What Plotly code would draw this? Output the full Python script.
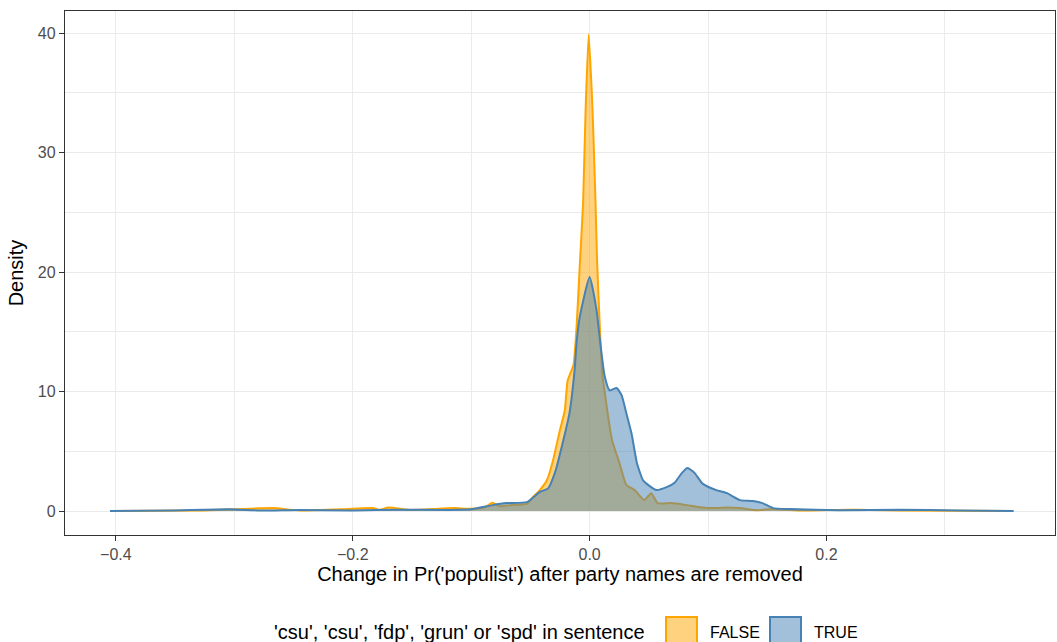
import plotly.graph_objects as go

# FALSE group density (orange)
false_x = [-0.405, -0.329, -0.2675, -0.245, -0.211, -0.183, -0.177, -0.170, -0.152, -0.127,
           -0.114, -0.101, -0.089, -0.082, -0.076, -0.0675, -0.053, -0.048, -0.042, -0.036,
           -0.031, -0.025, -0.021, -0.0186, -0.0152, -0.0135, -0.011, -0.0084, -0.0055, -0.0034,
           -0.0008, 0.0025, 0.005, 0.0063, 0.0088, 0.011, 0.0127, 0.0152, 0.019, 0.0253,
           0.031, 0.038, 0.044, 0.0464, 0.052, 0.0574, 0.069, 0.082, 0.093, 0.107,
           0.116, 0.127, 0.141, 0.154, 0.177, 0.219, 0.236, 0.262, 0.358]
false_y = [0.0, 0.05, 0.25, 0.05, 0.15, 0.25, 0.1, 0.3, 0.1, 0.2,
           0.25, 0.2, 0.3, 0.7, 0.4, 0.5, 0.6, 1.17, 1.76, 2.6,
           4.2, 6.8, 8.4, 10.9, 11.8, 12.3, 15.4, 20.4, 25.8, 33.5,
           39.9, 33.5, 25.8, 21.0, 15.0, 11.2, 10.0, 8.2, 5.9, 4.0,
           2.2, 1.76, 1.1, 0.92, 1.5, 0.67, 0.67, 0.5, 0.33, 0.25,
           0.3, 0.25, 0.08, 0.17, 0.05, 0.12, 0.1, 0.05, 0.0]

# TRUE group density (blue)
true_x = [-0.405, -0.354, -0.304, -0.278, -0.245, -0.2, -0.16, -0.12, -0.1, -0.082,
          -0.070, -0.053, -0.042, -0.035, -0.029, -0.023, -0.017, -0.0127, -0.011, -0.0084,
          0.0, 0.0059, 0.0084, 0.0127, 0.0169, 0.0228, 0.027, 0.031, 0.0354, 0.040,
          0.045, 0.048, 0.0565, 0.065, 0.072, 0.078, 0.0827, 0.0886, 0.0954, 0.107,
          0.116, 0.127, 0.138, 0.146, 0.155, 0.169, 0.211, 0.262, 0.312, 0.358]
true_y = [0.0, 0.05, 0.15, 0.05, 0.1, 0.05, 0.12, 0.1, 0.15, 0.5,
          0.67, 0.75, 1.6, 1.9, 3.3, 5.6, 8.2, 11.8, 14.1, 16.2,
          19.6, 16.8, 14.6, 11.3, 10.1, 10.3, 9.7, 8.2, 6.5, 4.0,
          2.6, 2.3, 1.76, 2.0, 2.4, 3.2, 3.6, 3.2, 2.3, 1.76,
          1.5, 0.92, 0.84, 0.67, 0.25, 0.17, 0.08, 0.12, 0.04, 0.0]

x_ticks = [-0.4, -0.2, 0.0, 0.2]
x_tick_labels = ["\u22120.4", "\u22120.2", "0.0", "0.2"]
y_ticks = [0, 10, 20, 30, 40]

group_names = ["FALSE", "TRUE"]
line_colors = ["#FFA500", "#4682B4"]
fill_colors = ["rgba(255,165,0,0.5)", "rgba(70,130,180,0.5)"]
legend_title = "'csu', 'csu', 'fdp', 'grun' or 'spd' in sentence"

FONT = "Liberation Sans, Arial, sans-serif"

fig = go.Figure()
for xs, ys, nm, lc, fc in zip([false_x, true_x], [false_y, true_y],
                              group_names, line_colors, fill_colors):
    fig.add_trace(go.Scatter(
        x=xs, y=ys, name=nm, mode="lines", showlegend=False,
        line=dict(color=lc, width=2, shape="spline", smoothing=0.5),
        fill="tozeroy", fillcolor=fc))

axis_common = dict(
    showline=True, linecolor="#333333", linewidth=1.3, mirror=True,
    ticks="outside", ticklen=5, tickcolor="#333333", tickwidth=1.3,
    tickfont=dict(family=FONT, size=16, color="#4D4D4D"),
    showgrid=True, gridcolor="#EBEBEB", gridwidth=1.3,
    zeroline=False, automargin=False,
)

# plot-area geometry (pixels) used to place the hand-made legend
L, R, T, B = 65, 1055, 11, 535
W, H = R - L, B - T
def px(xp):
    return (xp - L) / W
def py(yp):
    return (B - yp) / H

fig.update_layout(
    width=1057, height=642,
    margin=dict(l=L, r=1057 - R, t=T, b=642 - B),
    paper_bgcolor="white", plot_bgcolor="white",
    font=dict(family=FONT, color="black"),
    showlegend=False,
    xaxis=dict(
        range=[-0.443, 0.393], tickvals=x_ticks, ticktext=x_tick_labels,
        title=dict(text="Change in Pr('populist') after party names are removed",
                   font=dict(size=20, color="black"), standoff=4),
        minor=dict(tickvals=[-0.3, -0.1, 0.1, 0.3], showgrid=True,
                   gridcolor="#EBEBEB", gridwidth=0.6, ticks=""),
        **axis_common),
    yaxis=dict(
        range=[-2.0, 41.85], tickvals=y_ticks,
        title=dict(text="Density", font=dict(size=20, color="black"), standoff=8),
        minor=dict(tickvals=[5, 15, 25, 35], showgrid=True,
                   gridcolor="#EBEBEB", gridwidth=0.6, ticks=""),
        **axis_common),
)

# legend (bottom, horizontal): title, keys and labels
fig.add_annotation(text=legend_title, xref="paper", yref="paper",
                   x=px(647), y=py(632), xanchor="right", yanchor="middle",
                   showarrow=False, font=dict(size=20, color="black", family=FONT))
key_left = [666, 770]
label_left = [708, 812]
for nm, lc, fc, kl, tl in zip(group_names, line_colors, fill_colors, key_left, label_left):
    fig.add_shape(type="rect", xref="paper", yref="paper",
                  x0=px(kl), x1=px(kl + 31), y0=py(617), y1=py(648),
                  fillcolor=fc, line=dict(color=lc, width=2))
    fig.add_annotation(text=nm, xref="paper", yref="paper",
                       x=px(tl), y=py(632), xanchor="left", yanchor="middle",
                       showarrow=False, font=dict(size=16, color="black", family=FONT))

fig.write_html("out.html")
